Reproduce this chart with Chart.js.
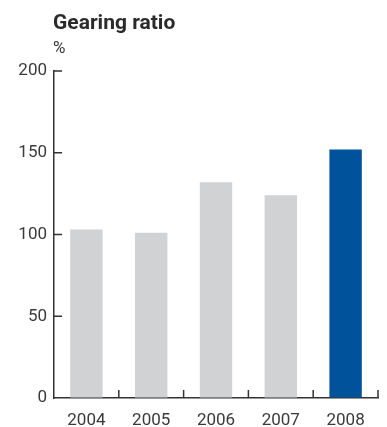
<!DOCTYPE html>
<html lang="en">
<head>
  <meta charset="UTF-8">
  <title>Gearing ratio</title>
  <script src="https://cdn.jsdelivr.net/npm/chart.js"></script>
  <style>
    body { margin: 0; background: #fff; }
    .wrap { position: relative; width: 387px; height: 427px; }
    .titulo { position: absolute; left: 53px; top: 10px; font: bold 21px Roboto, sans-serif; color: #2b2b2b; }
    .unidade { position: absolute; left: 53px; top: 37px; font: 17px Roboto, sans-serif; color: #3a3a3a; }
    canvas { position: absolute; left: 0; top: 0; }
  </style>
</head>
<body>
  <div class="wrap">
    <canvas id="grafico" width="387" height="427"></canvas>
    <div class="titulo">Gearing ratio</div>
    <div class="unidade">%</div>
  </div>
<script>
  const anos = ["2004", "2005", "2006", "2007", "2008"];
  const gearing = [103, 101, 132, 124, 152];
  const marcasY = [0, 50, 100, 150, 200];
  const cores = ["#d1d2d4", "#d1d2d4", "#d1d2d4", "#d1d2d4", "#00529b"];

  const corEixo = "#333333";
  const corTexto = "#3a3a3a";

  // small tick marks pointing into the plot, like the printed version
  const marcasInternas = {
    id: "marcasInternas",
    afterDraw(chart) {
      const ctx = chart.ctx;
      const x = chart.scales.x;
      const y = chart.scales.y;
      const area = chart.chartArea;
      ctx.save();
      ctx.strokeStyle = corEixo;
      ctx.lineWidth = 1.5;
      ctx.beginPath();
      marcasY.forEach(function (v) {
        if (v === 0) return;
        const py = y.getPixelForValue(v);
        ctx.moveTo(area.left, py);
        ctx.lineTo(area.left + 8, py);
      });
      for (let i = 0; i < anos.length; i++) {
        let px;
        if (i < anos.length - 1) {
          px = (x.getPixelForValue(i) + x.getPixelForValue(i + 1)) / 2;
        } else {
          px = area.right;
        }
        ctx.moveTo(px, area.bottom);
        ctx.lineTo(px, area.bottom - 8);
      }
      ctx.stroke();
      ctx.restore();
    }
  };

  new Chart(document.getElementById("grafico"), {
    type: "bar",
    data: {
      labels: anos,
      datasets: [{
        data: gearing,
        backgroundColor: cores,
        barPercentage: 0.5,
        categoryPercentage: 1
      }]
    },
    options: {
      responsive: false,
      animation: false,
      layout: { padding: { top: 71, right: 9, left: 0, bottom: 0 } },
      plugins: {
        legend: { display: false },
        tooltip: { enabled: false }
      },
      scales: {
        x: {
          grid: { drawOnChartArea: false, drawTicks: false },
          border: { display: true, color: corEixo, width: 1.5 },
          ticks: { color: corTexto, font: { family: "Roboto", size: 17 }, padding: 13 },
          afterFit(scale) { scale.height = 29; }
        },
        y: {
          min: 0,
          max: 200,
          afterBuildTicks(scale) { scale.ticks = marcasY.map(v => ({ value: v })); },
          grid: { drawOnChartArea: false, drawTicks: false },
          border: { display: true, color: corEixo, width: 1.5 },
          ticks: { color: corTexto, font: { family: "Roboto", size: 17 }, padding: 7 },
          afterFit(scale) { scale.width = 54; }
        }
      }
    },
    plugins: [marcasInternas]
  });
</script>
</body>
</html>
